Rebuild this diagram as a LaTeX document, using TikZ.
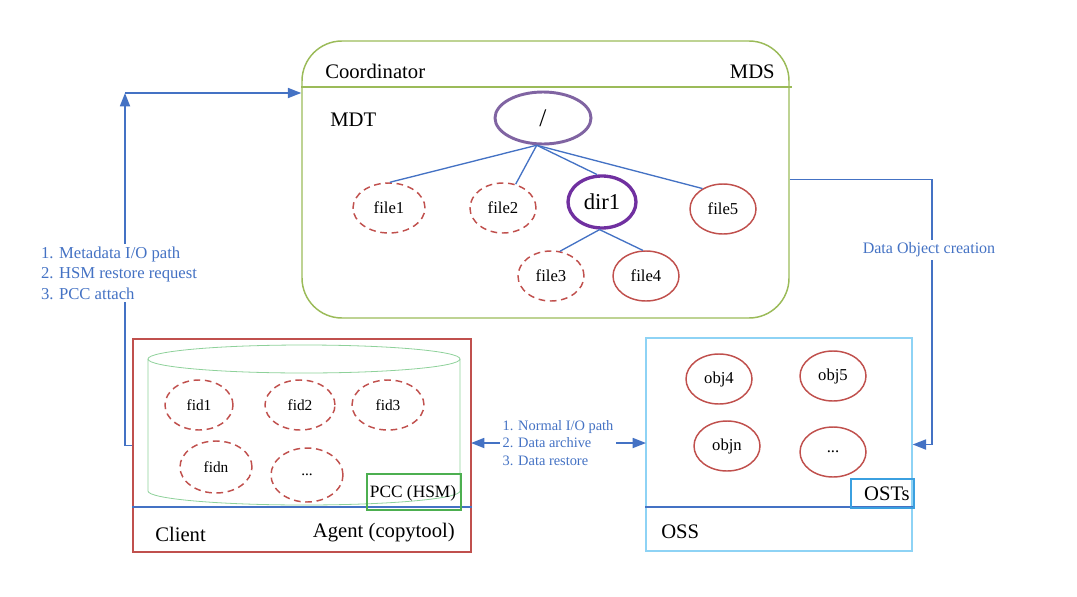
\documentclass[tikz,border=0pt]{standalone}
\usepackage{fontspec}
\setmainfont{Liberation Serif}
\usetikzlibrary{shapes.geometric,arrows.meta,fit}
\definecolor{blueC}{HTML}{4472C4}
\definecolor{redC}{HTML}{C0504D}
\definecolor{purpleA}{HTML}{8064A2}
\definecolor{purpleB}{HTML}{7030A0}
\definecolor{greenM}{HTML}{9BBB59}
\definecolor{greenCyl}{HTML}{8ED19A}
\definecolor{greenP}{HTML}{4CAF50}
\definecolor{lightB}{HTML}{8ED3F5}
\definecolor{ostsB}{HTML}{3BA0E0}
\tikzset{
  ell/.style={ellipse, draw=redC, line width=1.1pt, inner sep=0pt, font=\fontsize{12.5}{14}\selectfont, minimum width=66*0.75pt, minimum height=50*0.75pt},
  dell/.style={ell, dash pattern=on 5pt off 3.5pt},
  fidell/.style={dell, font=\fontsize{11.5}{14}\selectfont, minimum width=70*0.75pt, minimum height=50*0.75pt},
  tree/.style={draw=blueC, line width=1pt},
  conn/.style={draw=blueC, line width=1.3pt},
  tip/.style={-{Triangle[length=10pt,width=7.5pt]}},
  bluelab/.style={text=blueC, fill=white, align=left, inner sep=2pt},
  title/.style={font=\fontsize{15.5}{18}\selectfont, inner sep=0pt},
}
\begin{document}
\begin{tikzpicture}[x=0.75pt,y=-0.75pt]
\useasboundingbox (0,0) rectangle (1077,596);
% MDS box
\node (mds) [fit={(302,41) (789,318)}, inner sep=0pt, draw=greenM, line width=1.1pt, rounded corners=30pt] {};
\draw[draw=greenM, line width=1.1pt] (mds.west |- 0,87) -- (792,87);
\node[title, anchor=west] (coord) at (325,71) {Coordinator};
\node[title, anchor=east] (mdslab) at (775,72) {MDS};
\node[title, anchor=west] (mdt) at (330,120) {MDT};
% tree
\node (root) [ellipse, draw=purpleA, line width=2.2pt, minimum width=96*0.75pt, minimum height=52*0.75pt, inner sep=0pt, font=\fontsize{19}{20}\selectfont] at (543,118) {/};
\node (file1) [dell, minimum width=72*0.75pt] at (389,208) {file1};
\node (file2) [dell] at (503,208) {file2};
\node (dir1) [ellipse, draw=purpleB, line width=2.5pt, minimum width=68*0.75pt, minimum height=52*0.75pt, inner sep=0pt, font=\fontsize{17}{18}\selectfont] at (602,202) {dir1};
\node (file5) [ell] at (723,209) {file5};
\node (file3) [dell] at (551,276) {file3};
\node (file4) [ell] at (646,276) {file4};
\draw[tree] (root.-103) -- (file1.88);
\draw[tree] (root.-103) -- (file2.62);
\draw[tree] (root.-103) -- (dir1.100);
\draw[tree] (root.-103) -- (file5.135);
\draw[tree] (dir1.-95) -- (file3.70);
\draw[tree] (dir1.-95) -- (file4.97);
% Client box
\node (client) [fit={(133,339) (471,552)}, inner sep=0pt, draw=redC, line width=1.3pt] {};
\draw[draw=greenCyl, line width=0.6pt] (148,359) -- (148,491) arc[start angle=180, end angle=360, x radius=117pt, y radius=10.5pt] -- (460,359);
\draw[draw=greenCyl, line width=0.6pt] (304,359) ellipse [x radius=117pt, y radius=10.5pt];
\draw[draw=blueC, line width=1.1pt] (client.west |- 0,507) -- (client.east |- 0,507);
\node (fid1) [fidell, minimum width=68*0.75pt] at (199,405) {fid1};
\node (fid2) [fidell] at (300,405) {fid2};
\node (fid3) [fidell, minimum width=72*0.75pt] at (388,405) {fid3};
\node (fidn) [fidell, minimum width=72*0.75pt, minimum height=52*0.75pt] at (216,467) {fidn};
\node (fiddots) [fidell, minimum width=72*0.75pt, minimum height=54*0.75pt] at (307,475) {...};
\node (pcc) [fit={(367,474) (461,510)}, inner sep=0pt, draw=greenP, line width=1pt] {};
\node[font=\fontsize{13}{15}\selectfont] (pcclab) at (413,493) {PCC (HSM)};
\node[title, anchor=west] (clientlab) at (155,534) {Client};
\node[title, anchor=east] (agent) at (455,533) {Agent (copytool)};
% OSS box
\node (oss) [fit={(646,338) (912,551)}, inner sep=0pt, draw=lightB, line width=1pt] {};
\draw[draw=blueC, line width=1.1pt] (oss.west |- 0,507) -- (914,507);
\node (osts) [fit={(851,479) (914,508)}, inner sep=0pt, draw=ostsB, line width=1pt] {};
\node[title, anchor=east] (ostslab) at (910,494) {OSTs};
\node[title, anchor=west] (osslab) at (661,532) {OSS};
\node (obj4) [ell] at (719,379) {obj4};
\node (obj5) [ell] at (833,376) {obj5};
\node (objn) [ell] at (727,446) {objn};
\node (objdots) [ell] at (833,452) {...};
% connectors
\coordinate (lc) at (125,93);
\draw[conn, tip] (client.west) -| (lc);
\draw[conn, tip] (lc) -- (lc -| mds.west);
\node[bluelab, font=\fontsize{12.5}{15.5}\selectfont] (meta) at (119,273) {1. Metadata I/O path\\2. HSM restore request\\3. PCC attach};
\draw[conn, {Triangle[length=10pt,width=7.5pt]}-{Triangle[length=10pt,width=7.5pt]}] (471,443) -- (646,443);
\node[bluelab, font=\fontsize{10.8}{13}\selectfont] (io) at (558,443) {1. Normal I/O path\\2. Data archive\\3. Data restore};
\coordinate (rc) at (932,444.5);
\draw[conn, tip] (mds.east) -| (rc) -- (oss.east);
\node[bluelab, font=\fontsize{12}{14}\selectfont] (doc) at (929,250) {Data Object creation};
\end{tikzpicture}
\end{document}
